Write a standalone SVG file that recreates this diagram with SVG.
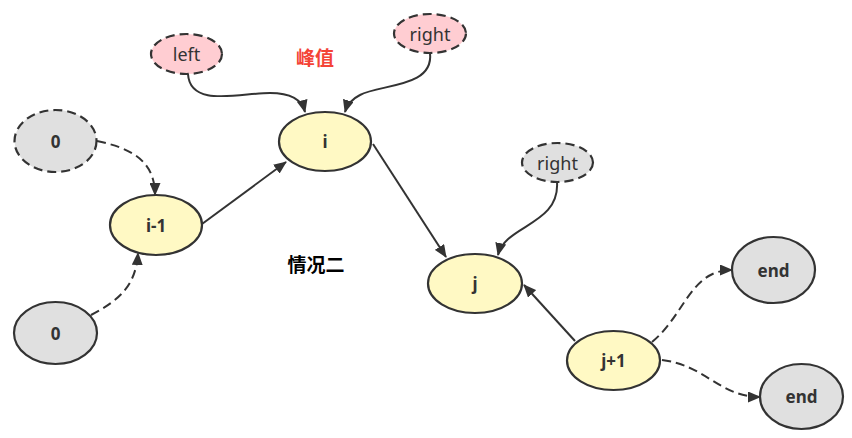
<svg xmlns="http://www.w3.org/2000/svg" width="852" height="438" viewBox="0 0 852 438">
<style>
.n{stroke:#333;stroke-width:2.2}
.y{fill:#fff9c4}
.g{fill:#e0e0e0}
.p{fill:#ffcdd2}
.d{stroke-dasharray:9 5}
.t{font-family:"Noto Sans","Liberation Sans","Noto Sans CJK SC",sans-serif;font-size:18px;fill:#333;text-anchor:middle;dominant-baseline:central}
.b{font-weight:bold;font-size:17px}
.c{fill:none;stroke:#333;stroke-width:2}
.cj{font-family:"Noto Sans CJK SC",sans-serif;font-size:19px;font-weight:bold;text-anchor:middle;dominant-baseline:central}
</style>
<defs>
<marker id="a" viewBox="0 0 13 11" refX="12" refY="5.5" markerWidth="13" markerHeight="11" markerUnits="userSpaceOnUse" orient="auto">
<path d="M0,0 L13,5.5 L0,11 Z" fill="#333"/>
</marker>
</defs>
<g id="connectors">
<path class="c" d="M188,74 C190,108 240,93 270,93 C292,93 302,100 305,112" marker-end="url(#a)"/>
<path class="c" d="M430,53 C434,88 380,84 360,95 C352,99 347,105 345,112" marker-end="url(#a)"/>
<path class="c d" d="M97,141 C130,148 155,160 155,195" marker-end="url(#a)"/>
<path class="c d" d="M91,315 C120,300 136,285 138,253" marker-end="url(#a)"/>
<path class="c" d="M202,224 L286,162" marker-end="url(#a)"/>
<path class="c" d="M373,144 L446,257" marker-end="url(#a)"/>
<path class="c" d="M557,182 C560,225 505,225 498,255" marker-end="url(#a)"/>
<path class="c" d="M575,341 L524,285" marker-end="url(#a)"/>
<path class="c d" d="M652,342 C685,315 690,270 732,270" marker-end="url(#a)"/>
<path class="c d" d="M662,360 C705,365 720,397 760,397" marker-end="url(#a)"/>
</g>
<g id="left"><ellipse class="n p d" cx="186.5" cy="54" rx="35.5" ry="20"/><text class="t" x="186.5" y="54">left</text></g>
<g id="right1"><ellipse class="n p d" cx="430" cy="33.5" rx="36" ry="19.5"/><text class="t" x="430" y="33.5">right</text></g>
<g id="peak"><text class="cj" x="315" y="56" fill="#f44336">峰值</text></g>
<g id="zero1"><ellipse class="n g d" cx="55.5" cy="141" rx="41" ry="31"/><text class="t b" x="55.5" y="141">0</text></g>
<g id="i"><ellipse class="n y" cx="325" cy="141.5" rx="46" ry="29.5"/><text class="t b" x="325" y="141.5">i</text></g>
<g id="im1"><ellipse class="n y" cx="156" cy="225" rx="46" ry="30"/><text class="t b" x="156" y="225">i-1</text></g>
<g id="zero2"><ellipse class="n g" cx="55.5" cy="333" rx="41.5" ry="31"/><text class="t b" x="55.5" y="333">0</text></g>
<g id="case"><text class="cj" x="316" y="263" fill="#000">情况二</text></g>
<g id="right2"><ellipse class="n g d" cx="557.5" cy="162.5" rx="35.5" ry="19.5"/><text class="t" x="557.5" y="162.5">right</text></g>
<g id="j"><ellipse class="n y" cx="475" cy="283.5" rx="47" ry="29.5"/><text class="t b" x="475" y="283.5">j</text></g>
<g id="jp1"><ellipse class="n y" cx="613.5" cy="360.5" rx="46.5" ry="29.5"/><text class="t b" x="613.5" y="360.5">j+1</text></g>
<g id="end1"><ellipse class="n g" cx="773.5" cy="270" rx="41.5" ry="33"/><text class="t b" x="773.5" y="270">end</text></g>
<g id="end2"><ellipse class="n g" cx="801.5" cy="396.5" rx="41.5" ry="32.5"/><text class="t b" x="801.5" y="396.5">end</text></g>
</svg>
